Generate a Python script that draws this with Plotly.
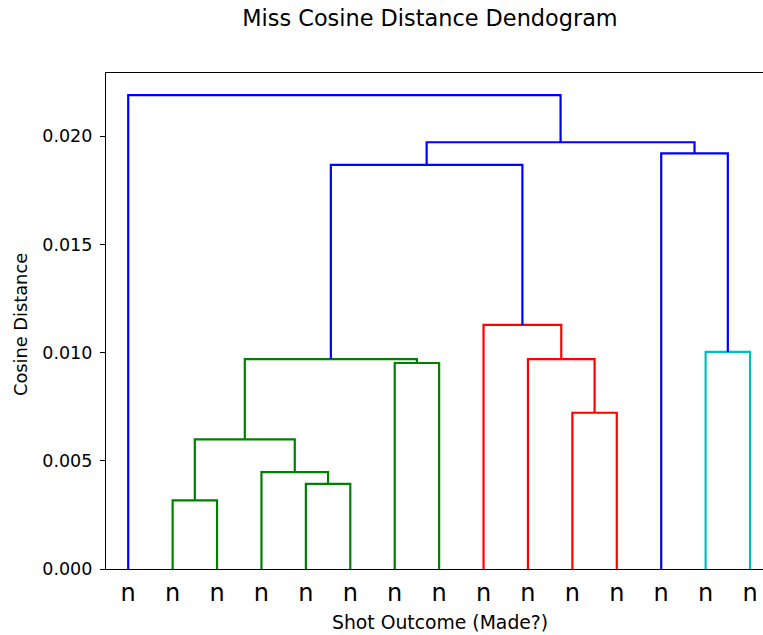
import plotly.graph_objects as go

# ---- data ----
leaf_labels = ["n"] * 15
# merges: (left child, right child, height, color); ids >= 15 are earlier merges
merge_left = [1, 4, 3, 15, 6, 18, 10, 9, 8, 20, 13, 12, 24, 0]
merge_right = [2, 5, 16, 17, 7, 19, 11, 21, 22, 23, 14, 25, 26, 27]
merge_height = [0.00317, 0.00393, 0.00448, 0.00599, 0.00952, 0.00970,
                0.00722, 0.00970, 0.01128, 0.01867, 0.01003, 0.01921,
                0.01972, 0.02190]
merge_color = ["g", "g", "g", "g", "g", "g",
               "r", "r", "r", "b", "c", "b", "b", "b"]
y_ticks = [0.000, 0.005, 0.010, 0.015, 0.020]

color_map = {"b": "#0000ff", "g": "#008000", "r": "#ff0000", "c": "#00bfbf"}

n = len(leaf_labels)
leaf_x = [5 + 10 * i for i in range(n)]
pos = {i: (leaf_x[i], 0.0) for i in range(n)}

segs = {k: ([], []) for k in color_map}
for k, (a, b, h, c) in enumerate(zip(merge_left, merge_right, merge_height, merge_color)):
    xa, ya = pos[a]
    xb, yb = pos[b]
    xs, ys = segs[c]
    xs += [xa, xa, xb, xb, None]
    ys += [ya, h, h, yb, None]
    pos[n + k] = ((xa + xb) / 2, h)

fig = go.Figure()
for c in ["g", "r", "c", "b"]:
    xs, ys = segs[c]
    if xs:
        fig.add_trace(go.Scatter(x=xs, y=ys, mode="lines",
                                 line=dict(color=color_map[c], width=2.2),
                                 hoverinfo="skip", showlegend=False))

W, H = 763, 635
ml, mr, mt, mb = 106, 0, 73, 66
pw = W - ml - mr
ph = H - mt - mb
font = "DejaVu Sans"

fig.update_layout(
    width=W, height=H,
    margin=dict(l=ml, r=mr, t=mt, b=mb),
    paper_bgcolor="white", plot_bgcolor="white",
    font=dict(family=font, color="black"),
    title=dict(text="Miss Cosine Distance Dendogram", x=430 / W, xref="container",
               xanchor="center", y=1 - 18 / H, yref="container", yanchor="middle",
               font=dict(size=22.4, family=font, color="black")),
    xaxis=dict(range=[0, (W - 105.8) / 4.443], tickvals=leaf_x, ticktext=leaf_labels,
               tickfont=dict(size=24, family=font, color="black"),
               ticks="", showline=True, linecolor="black", linewidth=1.2, mirror=True,
               showgrid=False, zeroline=False, ticklabelstandoff=2),
    yaxis=dict(range=[0, 0.02292], tickvals=y_ticks,
               ticktext=[f"{v:.3f}" for v in y_ticks],
               tickfont=dict(size=17.5, family=font, color="black"),
               ticks="outside", ticklen=5, tickwidth=1.2, tickcolor="black",
               showline=True, linecolor="black", linewidth=1.2, mirror=False,
               showgrid=False, zeroline=False, ticklabelstandoff=4),
)

fig.add_annotation(text="Shot Outcome (Made?)", xref="paper", yref="paper",
                   x=(440 - ml) / pw, y=-(622 - (H - mb)) / ph,
                   xanchor="center", yanchor="middle", showarrow=False,
                   font=dict(size=18.8, family=font, color="black"))
fig.add_annotation(text="Cosine Distance", xref="paper", yref="paper",
                   x=(20 - ml) / pw, y=((H - mb) - 325) / ph, textangle=-90,
                   xanchor="center", yanchor="middle", showarrow=False,
                   font=dict(size=17.8, family=font, color="black"))

fig.write_html("out.html")
